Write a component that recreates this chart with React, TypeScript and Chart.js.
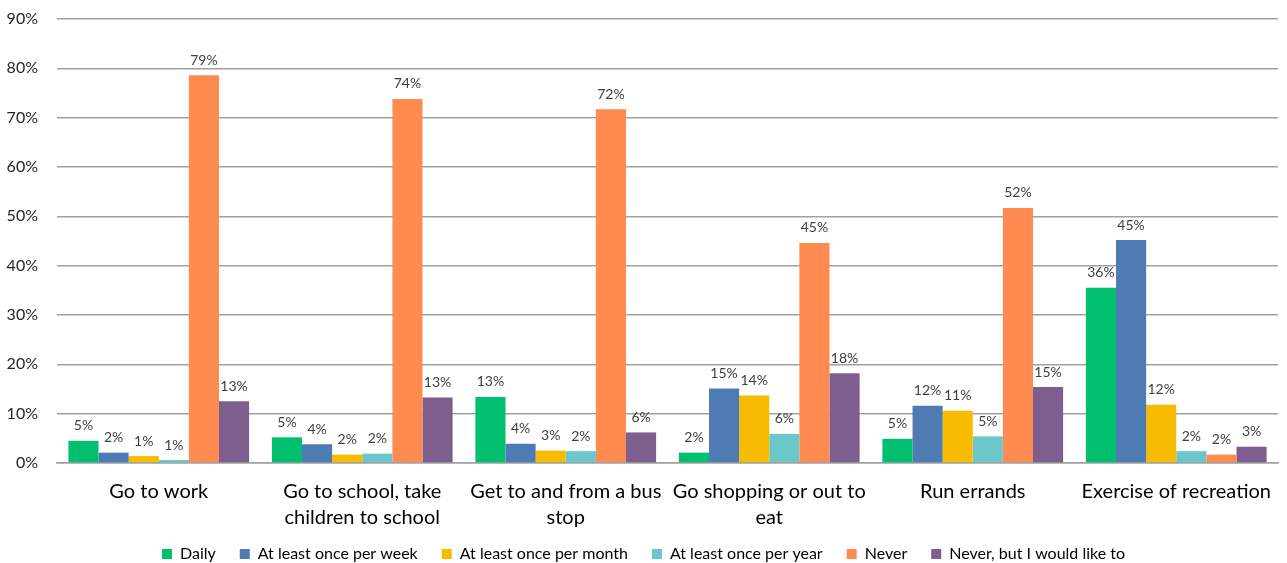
import React, { useEffect, useRef } from "react";
import { Chart, registerables } from "chart.js";

Chart.register(...registerables);

const categories: (string | string[])[] = [
  "Go to work",
  ["Go to school, take", "children to school"],
  ["Get to and from a bus", "stop"],
  ["Go shopping or out to", "eat"],
  "Run errands",
  "Exercise of recreation",
];

const seriesNames = [
  "Daily",
  "At least once per week",
  "At least once per month",
  "At least once per year",
  "Never",
  "Never, but I would like to",
];

const seriesColors = ["#00BF6F", "#4F7BB4", "#F7BC00", "#6CC7CA", "#FF8B50", "#7D5E8E"];

const daily = [4.5, 5.2, 13.4, 2.1, 4.9, 35.5];
const perWeek = [2.1, 3.8, 3.9, 15.1, 11.6, 45.2];
const perMonth = [1.4, 1.7, 2.5, 13.7, 10.6, 11.8];
const perYear = [0.6, 1.9, 2.4, 5.9, 5.4, 2.4];
const never = [78.6, 73.8, 71.7, 44.6, 51.7, 1.7];
const neverButLike = [12.5, 13.3, 6.2, 18.2, 15.4, 3.3];

const seriesValues = [daily, perWeek, perMonth, perYear, never, neverButLike];

const yTicks = [0, 10, 20, 30, 40, 50, 60, 70, 80, 90];

const FONT = "Lato, 'Open Sans', sans-serif";

const dataLabelPlugin = {
  id: "dataLabels",
  afterDatasetsDraw(chart: any) {
    const ctx = chart.ctx;
    ctx.save();
    ctx.font = `14px ${FONT}`;
    ctx.fillStyle = "#404040";
    ctx.textAlign = "center";
    ctx.textBaseline = "middle";
    chart.data.datasets.forEach((ds: any, i: number) => {
      const meta = chart.getDatasetMeta(i);
      meta.data.forEach((bar: any, j: number) => {
        const v = ds.data[j];
        ctx.fillText(Math.round(v) + "%", bar.x, bar.y - 15);
      });
    });
    ctx.restore();
  },
};

export default function App() {
  const ref = useRef<HTMLCanvasElement | null>(null);

  useEffect(() => {
    document.body.style.margin = "0";
    const canvas = ref.current;
    if (!canvas) return;
    const chart = new Chart(canvas, {
      type: "bar",
      data: {
        labels: categories,
        datasets: seriesNames.map((name, i) => ({
          label: name,
          data: seriesValues[i],
          backgroundColor: seriesColors[i],
          borderWidth: 0,
          barPercentage: 1,
          categoryPercentage: 0.888,
        })),
      },
      options: {
        animation: false,
        responsive: false,
        maintainAspectRatio: false,
        layout: { padding: { top: 19, left: 0, right: 0, bottom: -9 } },
        plugins: {
          tooltip: { enabled: false },
          legend: {
            position: "bottom",
            labels: {
              boxWidth: 10,
              boxHeight: 10,
              padding: 24,
              color: "#000",
              font: { family: FONT, size: 16 },
            },
          },
        },
        scales: {
          x: {
            grid: { display: false, drawTicks: false },
            border: { display: true, color: "#A0A0A0", width: 1.5 },
            ticks: {
              color: "#000",
              font: { family: FONT, size: 20, lineHeight: 1.3 },
              padding: 16,
              autoSkip: false,
              maxRotation: 0,
              minRotation: 0,
            },
            afterFit: (s: any) => {
              s.height = 59;
              s._computeLabelArea = () => undefined;
            },
          },
          y: {
            min: 0,
            max: 90,
            afterBuildTicks: (s: any) => {
              s.ticks = yTicks.map((v) => ({ value: v }));
            },
            grid: { color: "#A0A0A0", lineWidth: 1.5, drawTicks: false },
            border: { display: false },
            ticks: {
              color: "#262626",
              font: { family: FONT, size: 16 },
              padding: 19,
              callback: (v: any) => v + "%",
            },
            afterFit: (s: any) => {
              s.width = 57;
              s.paddingTop = 0;
              s.paddingBottom = 0;
            },
          },
        },
      },
      plugins: [dataLabelPlugin],
    });
    return () => chart.destroy();
  }, []);

  return (
    <div style={{ position: "absolute", left: 0, top: 0, width: 1287, height: 563 }}>
      <canvas ref={ref} width={1287} height={563} />
    </div>
  );
}
